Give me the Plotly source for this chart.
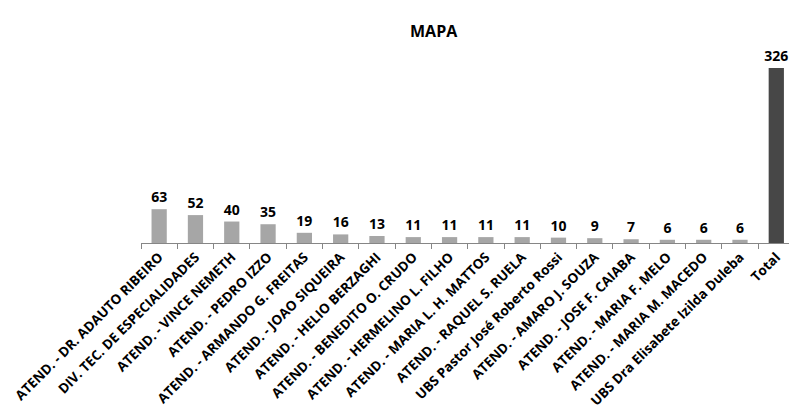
import plotly.graph_objects as go

categories = [
    "ATEND. - DR. ADAUTO RIBEIRO",
    "DIV. TEC. DE ESPECIALIDADES",
    "ATEND. - VINCE NEMETH",
    "ATEND. - PEDRO IZZO",
    "ATEND. - ARMANDO G. FREITAS",
    "ATEND. - JOAO SIQUEIRA",
    "ATEND. - HELIO BERZAGHI",
    "ATEND. - BENEDITO O. CRUDO",
    "ATEND. - HERMELINO L. FILHO",
    "ATEND. - MARIA L. H. MATTOS",
    "ATEND. - RAQUEL S. RUELA",
    "UBS Pastor José Roberto Rossi",
    "ATEND. - AMARO J. SOUZA",
    "ATEND. - JOSE F. CAIABA",
    "ATEND. - MARIA F. MELO",
    "ATEND. - MARIA M. MACEDO",
    "UBS Dra Elisabete Izilda Duleba",
    "Total",
]
values = [63, 52, 40, 35, 19, 16, 13, 11, 11, 11, 11, 10, 9, 7, 6, 6, 6, 326]

colors = ["#A6A6A6"] * (len(values) - 1) + ["#474747"]

W, H = 789, 414
L, T, B = 141, 60, 171

fig = go.Figure(
    go.Bar(
        x=categories,
        y=values,
        marker=dict(color=colors, line=dict(width=0)),
        width=0.42,
        text=[str(v) for v in values],
        textposition="outside",
        constraintext="none",
        textfont=dict(family="Open Sans", size=14, color="#000000", weight="bold"),
        cliponaxis=False,
        hoverinfo="skip",
    )
)

plot_h = H - T - B
fig.update_layout(
    width=W,
    height=H,
    plot_bgcolor="white",
    paper_bgcolor="white",
    margin=dict(l=L, r=0, t=T, b=B, autoexpand=False),
    showlegend=False,
    bargap=0.58,
    annotations=[
        dict(
            text="<b>MAPA</b>",
            font=dict(family="Open Sans", size=16, color="#000000"),
            x=(434 - L) / (W - L),
            xref="paper",
            xanchor="center",
            y=1 + (T - 31) / plot_h,
            yref="paper",
            yanchor="middle",
            showarrow=False,
        )
    ],
)

fig.update_xaxes(
    range=[-0.5, 17.35],
    automargin=False,
    tickangle=-45,
    tickfont=dict(family="Open Sans", size=13.5, color="#000000", weight="bold"),
    showline=True,
    linecolor="#868686",
    linewidth=1,
    ticks="outside",
    ticklen=5,
    tickcolor="#868686",
    tickson="boundaries",
    showgrid=False,
)
fig.update_yaxes(
    range=[0, 341],
    visible=False,
    automargin=False,
    showgrid=False,
)

fig.write_html(
    "out.html",
    config={"displayModeBar": False},
    post_script="document.body.style.margin='0px';document.body.style.overflow='hidden';",
)
